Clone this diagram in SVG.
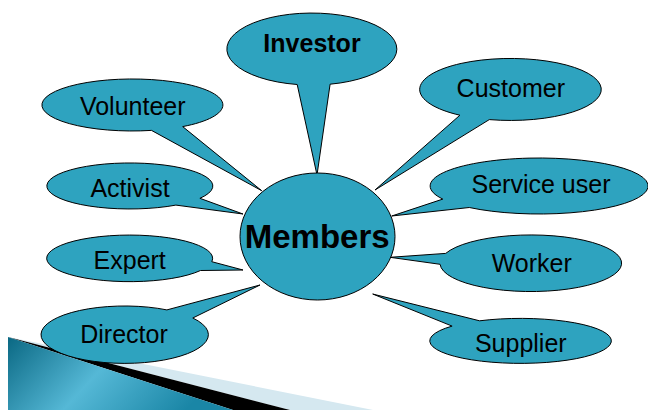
<svg xmlns="http://www.w3.org/2000/svg" width="648" height="410" viewBox="0 0 648 410">
  <defs>
    <linearGradient id="bandGrad" x1="0" y1="0" x2="1" y2="0.3">
      <stop offset="0" stop-color="#0a6883"/>
      <stop offset="0.5" stop-color="#55b8d6"/>
      <stop offset="1" stop-color="#1a86a6"/>
    </linearGradient>
  </defs>
  <style>
    .bubble { fill: #2ea3bf; stroke: #000; stroke-width: 1; stroke-linejoin: miter; }
    .lbl { font-family: "Liberation Sans", Arial, sans-serif; font-size: 25px; fill: #000; text-anchor: middle; }
    .bold { font-weight: bold; }
    .big { font-size: 33px; font-weight: bold; }
  </style>
  <rect x="0" y="0" width="648" height="410" fill="#ffffff"/>

  <!-- decorative corner band -->
  <g id="corner-band">
    <polygon points="8,337 373,410 290,410" fill="#d5e8f0"/>
    <polygon points="8,337 290,410 233,410" fill="#000000"/>
    <polygon points="8,337 233,410 8,410" fill="url(#bandGrad)"/>
  </g>

  <g id="connectors"/>

  <g id="investor">
    <path class="bubble" d="M330.1,84.2 L317,175 L297.2,84.5 A85,36 0 1 1 330.1,84.2 Z"/>
    <text class="lbl bold" x="312" y="52">Investor</text>
  </g>

  <g id="volunteer">
    <path class="bubble" d="M182.7,126.6 L261.7,190.7 L151.5,130.4 A90.5,26 0 1 1 182.7,126.6 Z"/>
    <text class="lbl" x="132.7" y="115">Volunteer</text>
  </g>

  <g id="activist">
    <path class="bubble" d="M199.9,198.3 L243,214 L175.9,205.1 A83,23 0 1 1 199.9,198.3 Z"/>
    <text class="lbl" x="130" y="197.3">Activist</text>
  </g>

  <g id="expert">
    <path class="bubble" d="M211.8,261.7 L243,270 L200.5,270.5 A83,23.3 0 1 1 211.8,261.7 Z"/>
    <text class="lbl" x="129.7" y="269.3">Expert</text>
  </g>

  <g id="director">
    <path class="bubble" d="M166.9,309.9 L260,285 L192.8,318 A83.7,28.7 0 1 1 166.9,309.9 Z"/>
    <text class="lbl" x="124" y="343.3">Director</text>
  </g>

  <g id="customer">
    <path class="bubble" d="M489.3,119.6 L375,190 L459.9,115.2 A90.8,31 0 1 1 489.3,119.6 Z"/>
    <text class="lbl" x="510.8" y="96.7">Customer</text>
  </g>

  <g id="service-user">
    <path class="bubble" d="M469.3,207.5 L391.7,216 L442.8,199.1 A109,28 0 1 1 469.3,207.5 Z"/>
    <text class="lbl" x="541" y="193.3">Service user</text>
  </g>

  <g id="worker">
    <path class="bubble" d="M440.1,264.3 L390,257.3 L445.7,253.4 A90.8,28.3 0 1 1 440.1,264.3 Z"/>
    <text class="lbl" x="531.7" y="271.7">Worker</text>
  </g>

  <g id="supplier">
    <path class="bubble" d="M452.1,326.1 L372.7,294 L479.6,320.8 A90.8,22.5 0 1 1 452.1,326.1 Z"/>
    <text class="lbl" x="520.8" y="351.7">Supplier</text>
  </g>

  <g id="members">
    <ellipse class="bubble" cx="317.5" cy="236.5" rx="77.5" ry="63.5"/>
    <text class="lbl big" x="317.2" y="247.5">Members</text>
  </g>
</svg>
